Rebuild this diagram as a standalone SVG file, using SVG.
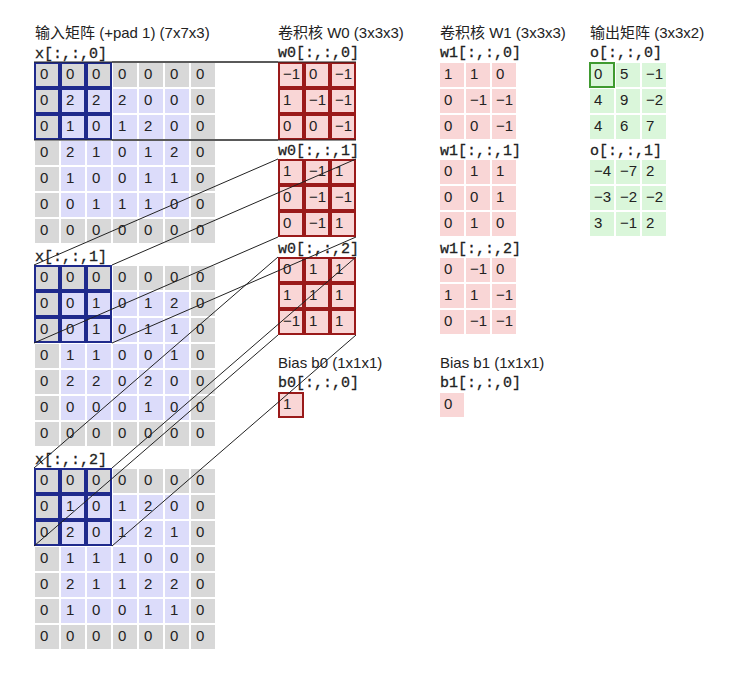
<svg xmlns="http://www.w3.org/2000/svg" width="750" height="680" viewBox="0 0 750 680">
<style>
.ttl{font-family:"Liberation Sans","Noto Sans CJK SC",sans-serif;font-size:15px;fill:#222}
.lbl{font-family:"Liberation Mono",monospace;font-size:15px;fill:#222;stroke:#222;stroke-width:0.3}
.n{font-family:"Liberation Sans",sans-serif;font-size:15px;fill:#222}
.win{fill:none;stroke:#1f2a8c;stroke-width:2}
.wb{fill:none;stroke:#9a1a1a;stroke-width:2}
.hl{fill:none;stroke:#3f9a30;stroke-width:2}
.ln{stroke:#222;stroke-width:1;fill:none}
</style>
<defs>
<pattern id="pg" patternUnits="userSpaceOnUse" width="26" height="26"><rect width="24" height="24" fill="#d8d8d8"/></pattern>
<pattern id="pl" patternUnits="userSpaceOnUse" width="26" height="26"><rect width="24" height="24" fill="#dcdcfa"/></pattern>
<pattern id="pp" patternUnits="userSpaceOnUse" width="26" height="26"><rect width="24" height="24" fill="#f9d6d6"/></pattern>
<pattern id="pG" patternUnits="userSpaceOnUse" width="26" height="26"><rect width="24" height="24" fill="#daf6da"/></pattern>
</defs>
<rect width="750" height="680" fill="#ffffff"/>

<g id="titles">
<text class="ttl" x="35" y="38">输入矩阵 (+pad 1) (7x7x3)</text>
<text class="ttl" x="278" y="38">卷积核 W0 (3x3x3)</text>
<text class="ttl" x="440" y="38">卷积核 W1 (3x3x3)</text>
<text class="ttl" x="590" y="38">输出矩阵 (3x3x2)</text>
<text class="ttl" x="278" y="368">Bias b0 (1x1x1)</text>
<text class="ttl" x="440" y="368">Bias b1 (1x1x1)</text>
</g>

<g id="x0" transform="translate(35,63)">
<text class="lbl" x="0" y="-5">x[:,:,0]</text>
<rect width="180" height="180" fill="url(#pg)"/>
<rect x="26" y="26" width="128" height="128" fill="url(#pl)"/>
<rect class="win" x="0" y="0" width="24" height="24"/><rect class="win" x="26" y="0" width="24" height="24"/><rect class="win" x="52" y="0" width="24" height="24"/>
<rect class="win" x="0" y="26" width="24" height="24"/><rect class="win" x="26" y="26" width="24" height="24"/><rect class="win" x="52" y="26" width="24" height="24"/>
<rect class="win" x="0" y="52" width="24" height="24"/><rect class="win" x="26" y="52" width="24" height="24"/><rect class="win" x="52" y="52" width="24" height="24"/>
<text class="n" x="5" y="16">0</text><text class="n" x="31" y="16">0</text><text class="n" x="57" y="16">0</text><text class="n" x="83" y="16">0</text><text class="n" x="109" y="16">0</text><text class="n" x="135" y="16">0</text><text class="n" x="161" y="16">0</text>
<text class="n" x="5" y="42">0</text><text class="n" x="31" y="42">2</text><text class="n" x="57" y="42">2</text><text class="n" x="83" y="42">2</text><text class="n" x="109" y="42">0</text><text class="n" x="135" y="42">0</text><text class="n" x="161" y="42">0</text>
<text class="n" x="5" y="68">0</text><text class="n" x="31" y="68">1</text><text class="n" x="57" y="68">0</text><text class="n" x="83" y="68">1</text><text class="n" x="109" y="68">2</text><text class="n" x="135" y="68">0</text><text class="n" x="161" y="68">0</text>
<text class="n" x="5" y="94">0</text><text class="n" x="31" y="94">2</text><text class="n" x="57" y="94">1</text><text class="n" x="83" y="94">0</text><text class="n" x="109" y="94">1</text><text class="n" x="135" y="94">2</text><text class="n" x="161" y="94">0</text>
<text class="n" x="5" y="120">0</text><text class="n" x="31" y="120">1</text><text class="n" x="57" y="120">0</text><text class="n" x="83" y="120">0</text><text class="n" x="109" y="120">1</text><text class="n" x="135" y="120">1</text><text class="n" x="161" y="120">0</text>
<text class="n" x="5" y="146">0</text><text class="n" x="31" y="146">0</text><text class="n" x="57" y="146">1</text><text class="n" x="83" y="146">1</text><text class="n" x="109" y="146">1</text><text class="n" x="135" y="146">0</text><text class="n" x="161" y="146">0</text>
<text class="n" x="5" y="172">0</text><text class="n" x="31" y="172">0</text><text class="n" x="57" y="172">0</text><text class="n" x="83" y="172">0</text><text class="n" x="109" y="172">0</text><text class="n" x="135" y="172">0</text><text class="n" x="161" y="172">0</text>
</g>

<g id="x1" transform="translate(35,266)">
<text class="lbl" x="0" y="-5">x[:,:,1]</text>
<rect width="180" height="180" fill="url(#pg)"/>
<rect x="26" y="26" width="128" height="128" fill="url(#pl)"/>
<rect class="win" x="0" y="0" width="24" height="24"/><rect class="win" x="26" y="0" width="24" height="24"/><rect class="win" x="52" y="0" width="24" height="24"/>
<rect class="win" x="0" y="26" width="24" height="24"/><rect class="win" x="26" y="26" width="24" height="24"/><rect class="win" x="52" y="26" width="24" height="24"/>
<rect class="win" x="0" y="52" width="24" height="24"/><rect class="win" x="26" y="52" width="24" height="24"/><rect class="win" x="52" y="52" width="24" height="24"/>
<text class="n" x="5" y="16">0</text><text class="n" x="31" y="16">0</text><text class="n" x="57" y="16">0</text><text class="n" x="83" y="16">0</text><text class="n" x="109" y="16">0</text><text class="n" x="135" y="16">0</text><text class="n" x="161" y="16">0</text>
<text class="n" x="5" y="42">0</text><text class="n" x="31" y="42">0</text><text class="n" x="57" y="42">1</text><text class="n" x="83" y="42">0</text><text class="n" x="109" y="42">1</text><text class="n" x="135" y="42">2</text><text class="n" x="161" y="42">0</text>
<text class="n" x="5" y="68">0</text><text class="n" x="31" y="68">0</text><text class="n" x="57" y="68">1</text><text class="n" x="83" y="68">0</text><text class="n" x="109" y="68">1</text><text class="n" x="135" y="68">1</text><text class="n" x="161" y="68">0</text>
<text class="n" x="5" y="94">0</text><text class="n" x="31" y="94">1</text><text class="n" x="57" y="94">1</text><text class="n" x="83" y="94">0</text><text class="n" x="109" y="94">0</text><text class="n" x="135" y="94">1</text><text class="n" x="161" y="94">0</text>
<text class="n" x="5" y="120">0</text><text class="n" x="31" y="120">2</text><text class="n" x="57" y="120">2</text><text class="n" x="83" y="120">0</text><text class="n" x="109" y="120">2</text><text class="n" x="135" y="120">0</text><text class="n" x="161" y="120">0</text>
<text class="n" x="5" y="146">0</text><text class="n" x="31" y="146">0</text><text class="n" x="57" y="146">0</text><text class="n" x="83" y="146">0</text><text class="n" x="109" y="146">1</text><text class="n" x="135" y="146">0</text><text class="n" x="161" y="146">0</text>
<text class="n" x="5" y="172">0</text><text class="n" x="31" y="172">0</text><text class="n" x="57" y="172">0</text><text class="n" x="83" y="172">0</text><text class="n" x="109" y="172">0</text><text class="n" x="135" y="172">0</text><text class="n" x="161" y="172">0</text>
</g>

<g id="x2" transform="translate(35,469)">
<text class="lbl" x="0" y="-5">x[:,:,2]</text>
<rect width="180" height="180" fill="url(#pg)"/>
<rect x="26" y="26" width="128" height="128" fill="url(#pl)"/>
<rect class="win" x="0" y="0" width="24" height="24"/><rect class="win" x="26" y="0" width="24" height="24"/><rect class="win" x="52" y="0" width="24" height="24"/>
<rect class="win" x="0" y="26" width="24" height="24"/><rect class="win" x="26" y="26" width="24" height="24"/><rect class="win" x="52" y="26" width="24" height="24"/>
<rect class="win" x="0" y="52" width="24" height="24"/><rect class="win" x="26" y="52" width="24" height="24"/><rect class="win" x="52" y="52" width="24" height="24"/>
<text class="n" x="5" y="16">0</text><text class="n" x="31" y="16">0</text><text class="n" x="57" y="16">0</text><text class="n" x="83" y="16">0</text><text class="n" x="109" y="16">0</text><text class="n" x="135" y="16">0</text><text class="n" x="161" y="16">0</text>
<text class="n" x="5" y="42">0</text><text class="n" x="31" y="42">1</text><text class="n" x="57" y="42">0</text><text class="n" x="83" y="42">1</text><text class="n" x="109" y="42">2</text><text class="n" x="135" y="42">0</text><text class="n" x="161" y="42">0</text>
<text class="n" x="5" y="68">0</text><text class="n" x="31" y="68">2</text><text class="n" x="57" y="68">0</text><text class="n" x="83" y="68">1</text><text class="n" x="109" y="68">2</text><text class="n" x="135" y="68">1</text><text class="n" x="161" y="68">0</text>
<text class="n" x="5" y="94">0</text><text class="n" x="31" y="94">1</text><text class="n" x="57" y="94">1</text><text class="n" x="83" y="94">1</text><text class="n" x="109" y="94">0</text><text class="n" x="135" y="94">0</text><text class="n" x="161" y="94">0</text>
<text class="n" x="5" y="120">0</text><text class="n" x="31" y="120">2</text><text class="n" x="57" y="120">1</text><text class="n" x="83" y="120">1</text><text class="n" x="109" y="120">2</text><text class="n" x="135" y="120">2</text><text class="n" x="161" y="120">0</text>
<text class="n" x="5" y="146">0</text><text class="n" x="31" y="146">1</text><text class="n" x="57" y="146">0</text><text class="n" x="83" y="146">0</text><text class="n" x="109" y="146">1</text><text class="n" x="135" y="146">1</text><text class="n" x="161" y="146">0</text>
<text class="n" x="5" y="172">0</text><text class="n" x="31" y="172">0</text><text class="n" x="57" y="172">0</text><text class="n" x="83" y="172">0</text><text class="n" x="109" y="172">0</text><text class="n" x="135" y="172">0</text><text class="n" x="161" y="172">0</text>
</g>

<g id="w0_0" transform="translate(279,63)">
<text class="lbl" x="-1" y="-6">w0[:,:,0]</text>
<rect width="76" height="76" fill="url(#pp)"/>
<rect class="wb" x="0" y="0" width="24" height="24"/><rect class="wb" x="26" y="0" width="24" height="24"/><rect class="wb" x="52" y="0" width="24" height="24"/>
<rect class="wb" x="0" y="26" width="24" height="24"/><rect class="wb" x="26" y="26" width="24" height="24"/><rect class="wb" x="52" y="26" width="24" height="24"/>
<rect class="wb" x="0" y="52" width="24" height="24"/><rect class="wb" x="26" y="52" width="24" height="24"/><rect class="wb" x="52" y="52" width="24" height="24"/>
<text class="n" x="4" y="16">−1</text><text class="n" x="30" y="16">0</text><text class="n" x="56" y="16">−1</text>
<text class="n" x="4" y="42">1</text><text class="n" x="30" y="42">−1</text><text class="n" x="56" y="42">−1</text>
<text class="n" x="4" y="68">0</text><text class="n" x="30" y="68">0</text><text class="n" x="56" y="68">−1</text>
</g>

<g id="w0_1" transform="translate(279,160)">
<text class="lbl" x="-1" y="-5">w0[:,:,1]</text>
<rect width="76" height="76" fill="url(#pp)"/>
<rect class="wb" x="0" y="0" width="24" height="24"/><rect class="wb" x="26" y="0" width="24" height="24"/><rect class="wb" x="52" y="0" width="24" height="24"/>
<rect class="wb" x="0" y="26" width="24" height="24"/><rect class="wb" x="26" y="26" width="24" height="24"/><rect class="wb" x="52" y="26" width="24" height="24"/>
<rect class="wb" x="0" y="52" width="24" height="24"/><rect class="wb" x="26" y="52" width="24" height="24"/><rect class="wb" x="52" y="52" width="24" height="24"/>
<text class="n" x="4" y="16">1</text><text class="n" x="30" y="16">−1</text><text class="n" x="56" y="16">1</text>
<text class="n" x="4" y="42">0</text><text class="n" x="30" y="42">−1</text><text class="n" x="56" y="42">−1</text>
<text class="n" x="4" y="68">0</text><text class="n" x="30" y="68">−1</text><text class="n" x="56" y="68">1</text>
</g>

<g id="w0_2" transform="translate(279,258)">
<text class="lbl" x="-1" y="-5">w0[:,:,2]</text>
<rect width="76" height="76" fill="url(#pp)"/>
<rect class="wb" x="0" y="0" width="24" height="24"/><rect class="wb" x="26" y="0" width="24" height="24"/><rect class="wb" x="52" y="0" width="24" height="24"/>
<rect class="wb" x="0" y="26" width="24" height="24"/><rect class="wb" x="26" y="26" width="24" height="24"/><rect class="wb" x="52" y="26" width="24" height="24"/>
<rect class="wb" x="0" y="52" width="24" height="24"/><rect class="wb" x="26" y="52" width="24" height="24"/><rect class="wb" x="52" y="52" width="24" height="24"/>
<text class="n" x="4" y="16">0</text><text class="n" x="30" y="16">1</text><text class="n" x="56" y="16">1</text>
<text class="n" x="4" y="42">1</text><text class="n" x="30" y="42">1</text><text class="n" x="56" y="42">1</text>
<text class="n" x="4" y="68">−1</text><text class="n" x="30" y="68">1</text><text class="n" x="56" y="68">1</text>
</g>

<g id="b0" transform="translate(279,393)">
<text class="lbl" x="-1" y="-6">b0[:,:,0]</text>
<rect width="24" height="24" fill="#f9d6d6"/>
<rect class="wb" x="0" y="0" width="24" height="24"/>
<text class="n" x="4" y="16">1</text>
</g>

<g id="w1_0" transform="translate(440,63)">
<text class="lbl" x="0" y="-6">w1[:,:,0]</text>
<rect width="76" height="76" fill="url(#pp)"/>
<text class="n" x="4" y="16">1</text><text class="n" x="30" y="16">1</text><text class="n" x="56" y="16">0</text>
<text class="n" x="4" y="42">0</text><text class="n" x="30" y="42">−1</text><text class="n" x="56" y="42">−1</text>
<text class="n" x="4" y="68">0</text><text class="n" x="30" y="68">0</text><text class="n" x="56" y="68">−1</text>
</g>

<g id="w1_1" transform="translate(440,160)">
<text class="lbl" x="0" y="-5">w1[:,:,1]</text>
<rect width="76" height="76" fill="url(#pp)"/>
<text class="n" x="4" y="16">0</text><text class="n" x="30" y="16">1</text><text class="n" x="56" y="16">1</text>
<text class="n" x="4" y="42">0</text><text class="n" x="30" y="42">0</text><text class="n" x="56" y="42">1</text>
<text class="n" x="4" y="68">0</text><text class="n" x="30" y="68">1</text><text class="n" x="56" y="68">0</text>
</g>

<g id="w1_2" transform="translate(440,258)">
<text class="lbl" x="0" y="-5">w1[:,:,2]</text>
<rect width="76" height="76" fill="url(#pp)"/>
<text class="n" x="4" y="16">0</text><text class="n" x="30" y="16">−1</text><text class="n" x="56" y="16">0</text>
<text class="n" x="4" y="42">1</text><text class="n" x="30" y="42">1</text><text class="n" x="56" y="42">−1</text>
<text class="n" x="4" y="68">0</text><text class="n" x="30" y="68">−1</text><text class="n" x="56" y="68">−1</text>
</g>

<g id="b1" transform="translate(440,393)">
<text class="lbl" x="0" y="-6">b1[:,:,0]</text>
<rect width="24" height="24" fill="#f9d6d6"/>
<text class="n" x="4" y="16">0</text>
</g>

<g id="o0" transform="translate(590,63)">
<text class="lbl" x="0" y="-6">o[:,:,0]</text>
<rect width="76" height="76" fill="url(#pG)"/>
<rect class="hl" x="0" y="0" width="24" height="24"/>
<text class="n" x="4" y="16">0</text><text class="n" x="30" y="16">5</text><text class="n" x="56" y="16">−1</text>
<text class="n" x="4" y="42">4</text><text class="n" x="30" y="42">9</text><text class="n" x="56" y="42">−2</text>
<text class="n" x="4" y="68">4</text><text class="n" x="30" y="68">6</text><text class="n" x="56" y="68">7</text>
</g>

<g id="o1" transform="translate(590,160)">
<text class="lbl" x="0" y="-5">o[:,:,1]</text>
<rect width="76" height="76" fill="url(#pG)"/>
<text class="n" x="4" y="16">−4</text><text class="n" x="30" y="16">−7</text><text class="n" x="56" y="16">2</text>
<text class="n" x="4" y="42">−3</text><text class="n" x="30" y="42">−2</text><text class="n" x="56" y="42">−2</text>
<text class="n" x="4" y="68">3</text><text class="n" x="30" y="68">−1</text><text class="n" x="56" y="68">2</text>
</g>

<g id="connectors">
<line class="ln" x1="34" y1="62" x2="278" y2="62"/>
<line class="ln" x1="112" y1="62" x2="356" y2="62"/>
<line class="ln" x1="34" y1="140" x2="278" y2="140"/>
<line class="ln" x1="112" y1="140" x2="356" y2="140"/>
<line class="ln" x1="34" y1="265" x2="278" y2="159"/>
<line class="ln" x1="112" y1="265" x2="356" y2="159"/>
<line class="ln" x1="34" y1="343" x2="278" y2="237"/>
<line class="ln" x1="112" y1="343" x2="356" y2="237"/>
<line class="ln" x1="34" y1="468" x2="278" y2="257"/>
<line class="ln" x1="112" y1="468" x2="356" y2="257"/>
<line class="ln" x1="34" y1="546" x2="278" y2="335"/>
<line class="ln" x1="112" y1="546" x2="356" y2="335"/>
</g>
</svg>
